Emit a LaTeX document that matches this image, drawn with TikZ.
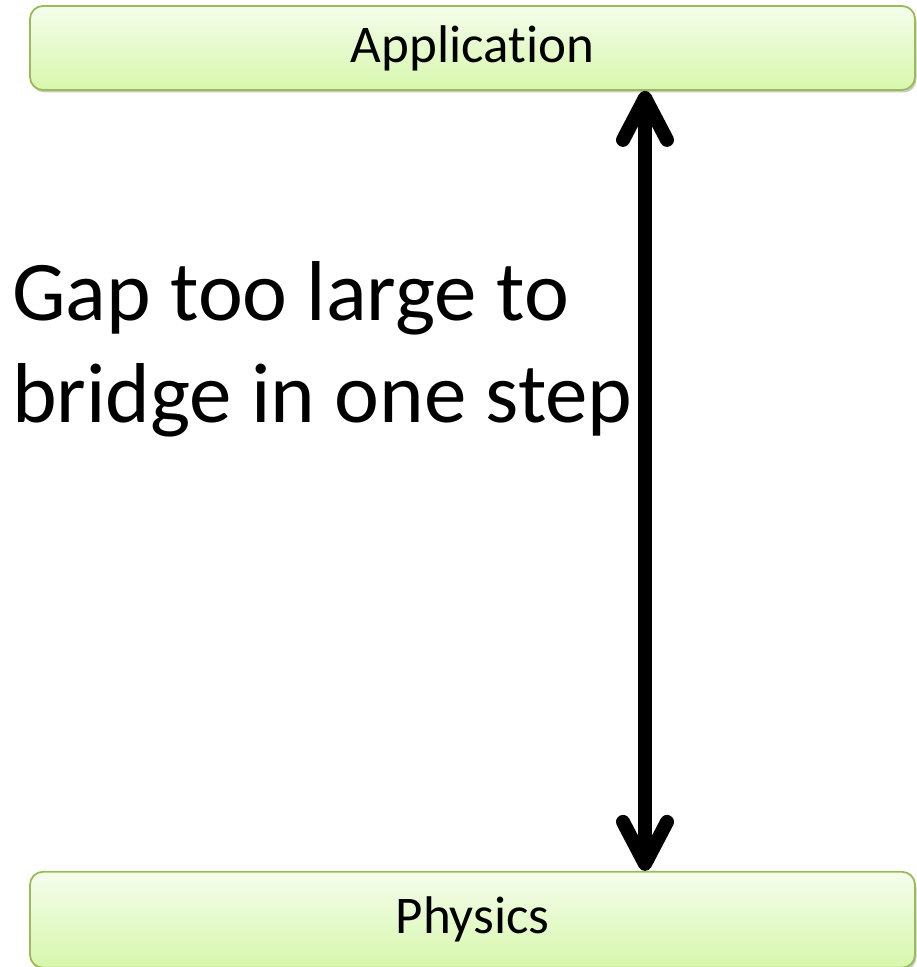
\documentclass[tikz,border=0pt]{standalone}
\usepackage{fontspec}
\setmainfont{Carlito}[Ligatures=NoCommon]
\usetikzlibrary{arrows.meta,positioning,shadows}
\definecolor{layerline}{HTML}{9BBB59}
\definecolor{layertop}{HTML}{F5FDEC}
\definecolor{layerbot}{HTML}{D7F7AC}
\begin{document}
\begin{tikzpicture}[
  x=1pt, y=1pt,
  node distance=780pt,
  layer/.style={draw=layerline, line width=1.8pt, rounded corners=13pt,
                minimum width=885pt, top color=layertop, bottom color=layerbot,
                font=\fontsize{53}{64}\selectfont,
                drop shadow={shadow xshift=1.5pt, shadow yshift=-2.5pt,
                             opacity=0.3, fill=black!70}},
  twoway/.style={{Straight Barb[length=42pt, width=44pt, round]}-{Straight Barb[length=42pt, width=44pt, round]},
                 line width=14pt}
]
  \useasboundingbox (0,0) rectangle (917,967);
  \node[layer, minimum height=84pt] (app) at (472.5,919) {Application};
  \node[layer, minimum height=96pt, below=of app] (phys) {Physics};
  \coordinate (axis) at (645,0);
  \draw[twoway] (app.south -| axis) -- (phys.north -| axis);
  \node[anchor=west, align=left, inner sep=0pt,
        font=\fontsize{85}{102}\selectfont] (gap) at (12,618)
        {Gap too large to\\bridge in one step};
\end{tikzpicture}
\end{document}
